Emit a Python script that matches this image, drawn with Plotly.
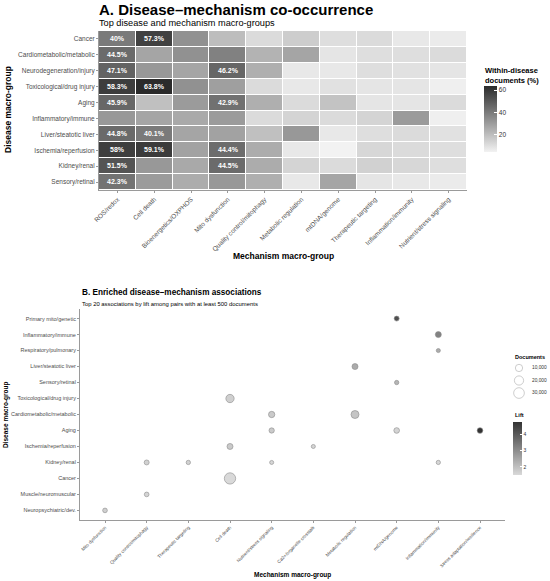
import numpy as np
import plotly.graph_objects as go

W, H = 550, 581
FONT = "Liberation Sans, Arial, sans-serif"

# ---- Panel A data: within-disease share of documents (%) ----
mechanisms = ["ROS/redox", "Cell death", "Bioenergetics/OXPHOS", "Mito dysfunction",
              "Quality control/mitophagy", "Metabolic regulation", "mtDNA/genome",
              "Therapeutic targeting", "Inflammation/immunity", "Nutrient/stress signaling"]
diseases = ["Cancer", "Cardiometabolic/metabolic", "Neurodegeneration/injury",
            "Toxicological/drug injury", "Aging", "Inflammatory/immune",
            "Liver/steatotic liver", "Ischemia/reperfusion", "Kidney/renal", "Sensory/retinal"]
pct = [
    [40.0, 57.3, 33, 20, 11, 15, 10, 11, 7, 6],
    [44.5, 27, 33, 38, 23, 27, 8, 10, 10, 11],
    [47.1, 31, 27, 46.2, 24, 7, 7, 10, 9, 8],
    [58.3, 63.8, 33, 29, 11, 7, 9, 8, 8, 5],
    [45.9, 19, 30, 42.9, 24, 11, 18, 8, 8, 11],
    [31, 27, 26, 30, 11, 13, 11, 13, 30, 5],
    [44.8, 40.1, 27, 28, 19, 31, 7, 10, 11, 9],
    [58.0, 59.1, 28, 44.4, 25, 7, 4, 12, 11, 10],
    [51.5, 31, 26, 44.5, 25, 13, 11, 14, 12, 10],
    [42.3, 30, 25, 31, 24, 7, 27, 8, 7, 6],
]

# ---- Panel B data: top 20 associations by lift ----
b_mechanisms = ["Mito dysfunction", "Quality control/mitophagy", "Therapeutic targeting",
                "Cell death", "Nutrient/stress signaling", "Ca2+/organelle crosstalk",
                "Metabolic regulation", "mtDNA/genome", "Inflammation/immunity",
                "Stress adaptation/resilience"]
b_diseases = ["Primary mito/genetic", "Inflammatory/immune", "Respiratory/pulmonary",
              "Liver/steatotic liver", "Sensory/retinal", "Toxicological/drug injury",
              "Cardiometabolic/metabolic", "Aging", "Ischemia/reperfusion", "Kidney/renal",
              "Cancer", "Muscle/neuromuscular", "Neuropsychiatric/dev."]
pair_disease = ["Primary mito/genetic", "Inflammatory/immune", "Respiratory/pulmonary",
                "Liver/steatotic liver", "Sensory/retinal", "Toxicological/drug injury",
                "Cardiometabolic/metabolic", "Cardiometabolic/metabolic",
                "Aging", "Aging", "Aging",
                "Ischemia/reperfusion", "Ischemia/reperfusion",
                "Kidney/renal", "Kidney/renal", "Kidney/renal", "Kidney/renal",
                "Cancer", "Muscle/neuromuscular", "Neuropsychiatric/dev."]
pair_mechanism = ["mtDNA/genome", "Inflammation/immunity", "Inflammation/immunity",
                  "Metabolic regulation", "mtDNA/genome", "Cell death",
                  "Nutrient/stress signaling", "Metabolic regulation",
                  "Nutrient/stress signaling", "mtDNA/genome", "Stress adaptation/resilience",
                  "Cell death", "Ca2+/organelle crosstalk",
                  "Quality control/mitophagy", "Therapeutic targeting",
                  "Nutrient/stress signaling", "Inflammation/immunity",
                  "Cell death", "Quality control/mitophagy", "Mito dysfunction"]
pair_docs = [2500, 5200, 1000, 5200, 1300, 14800, 6200, 13200, 3300, 4200, 4200,
             5200, 900, 2500, 1300, 900, 1200, 34800, 1900, 1900]
pair_lift = [4.2, 3.2, 2.4, 2.4, 2.2, 1.7, 1.8, 1.9, 1.8, 1.6, 4.75,
             1.8, 1.6, 1.65, 1.65, 1.55, 1.55, 1.5, 1.6, 1.7]
size_breaks = [10000, 20000, 30000]


def bubble_px(v):
    return 2.66 + 0.0464 * np.sqrt(np.asarray(v, dtype=float))


def px_x(p):
    return p / W


def px_y(p):
    return 1 - p / H


pct_arr = np.array(pct, dtype=float)
cell_text = [[(f"{v:g}%" if v >= 40 else "") for v in row] for row in pct]

fig = go.Figure()

fig.add_trace(go.Heatmap(
    z=pct_arr, x=mechanisms, y=diseases, text=cell_text,
    texttemplate="<b>%{text}</b>", textfont=dict(color="white", size=7, family=FONT),
    colorscale=[[0, "#f2f2f2"], [1, "#2b2b2b"]], xgap=1, ygap=1,
    colorbar=dict(x=px_x(484), xanchor="left", y=px_y(86), yanchor="top",
                  len=66 / H, thickness=13, outlinewidth=0, xpad=0, ypad=0,
                  tickvals=[20, 40, 60], ticks="inside", ticklen=3, tickcolor="white",
                  tickfont=dict(size=6.5, color="#333333", family=FONT)),
    hoverinfo="skip",
))

fig.add_trace(go.Scatter(
    x=pair_mechanism, y=pair_disease, mode="markers", xaxis="x2", yaxis="y2",
    marker=dict(size=bubble_px(pair_docs), color=pair_lift,
                colorscale=[[0, "#d9d9d9"], [1, "#333333"]],
                line=dict(color="#8c8c8c", width=0.6), opacity=1,
                colorbar=dict(x=px_x(513), xanchor="left", y=px_y(422), yanchor="top",
                              len=53 / H, thickness=9, outlinewidth=0, xpad=0, ypad=0,
                              tickvals=[2, 3, 4], ticks="inside", ticklen=2, tickcolor="white",
                              tickfont=dict(size=5, color="#333333", family=FONT))),
    showlegend=False, hoverinfo="skip",
))

# size legend (Documents)
fig.add_trace(go.Scatter(
    x=[0.225] * len(size_breaks), y=list(range(len(size_breaks))), mode="markers",
    xaxis="x3", yaxis="y3",
    marker=dict(size=bubble_px(size_breaks), color="white",
                line=dict(color="#8c8c8c", width=0.6)),
    showlegend=False, hoverinfo="skip",
))
fig.add_trace(go.Scatter(
    x=[0.55] * len(size_breaks), y=list(range(len(size_breaks))), mode="text",
    xaxis="x3", yaxis="y3", text=[f"{v:,}" for v in size_breaks],
    textposition="middle right", textfont=dict(size=4.8, color="#333333", family=FONT),
    showlegend=False, hoverinfo="skip", cliponaxis=False,
))

axis_common = dict(showgrid=False, zeroline=False, showline=True, linecolor="#9a9a9a",
                   linewidth=1, ticks="outside", ticklen=2, tickcolor="#9a9a9a",
                   type="category", automargin=False)

fig.update_layout(
    width=W, height=H, margin=dict(l=0, r=0, t=0, b=0, pad=0, autoexpand=False),
    paper_bgcolor="white", plot_bgcolor="white",
    font=dict(family=FONT, color="#333333"),
    xaxis=dict(axis_common, domain=[px_x(99), px_x(467)], anchor="y",
               categoryorder="array", categoryarray=mechanisms, tickangle=-45,
               tickfont=dict(size=6.5, color="#4d4d4d")),
    yaxis=dict(axis_common, domain=[px_y(190), px_y(31)], anchor="x",
               categoryorder="array", categoryarray=diseases, autorange="reversed",
               tickfont=dict(size=6.5, color="#4d4d4d")),
    xaxis2=dict(axis_common, domain=[px_x(80), px_x(505)], anchor="y2",
                categoryorder="array", categoryarray=b_mechanisms, range=[-0.6, 9.6],
                tickangle=-45, tickfont=dict(size=4.6, color="#4d4d4d")),
    yaxis2=dict(axis_common, domain=[px_y(520), px_y(309)], anchor="x2",
                categoryorder="array", categoryarray=b_diseases, range=[12.6, -0.6],
                tickfont=dict(size=5.5, color="#4d4d4d")),
    xaxis3=dict(domain=[px_x(510), 1], range=[0, 1], visible=False, anchor="y3",
                automargin=False),
    yaxis3=dict(domain=[px_y(399.3), px_y(361.7)], range=[2.5, -0.5], visible=False,
                anchor="x3", automargin=False),
)

notes = [
    ("<b>A. Disease–mechanism co-occurrence</b>", 97, 10, 15, 0, "left"),
    ("Top disease and mechanism macro-groups", 97, 23, 9.2, 0, "left"),
    ("<b>Mechanism macro-group</b>", 283, 256, 8.5, 0, "center"),
    ("<b>Disease macro-group</b>", 8, 110, 8.5, -90, "center"),
    ("<b>Within-disease<br>documents (%)</b>", 483, 75, 7.5, 0, "left"),
    ("<b>B. Enriched disease–mechanism associations</b>", 80, 292, 8.2, 0, "left"),
    ("Top 20 associations by lift among pairs with at least 500 documents", 80, 304, 5.9, 0, "left"),
    ("<b>Mechanism macro-group</b>", 292, 575, 6.5, 0, "center"),
    ("<b>Disease macro-group</b>", 6, 415, 6.5, -90, "center"),
    ("<b>Documents</b>", 513, 357, 5.5, 0, "left"),
    ("<b>Lift</b>", 513, 415, 5.5, 0, "left"),
]
for txt, x, y, size, ang, anchor in notes:
    fig.add_annotation(text=txt, x=px_x(x), y=px_y(y), xref="paper", yref="paper",
                       xanchor=anchor, yanchor="middle", showarrow=False, textangle=ang,
                       align="left", font=dict(size=size, color="black", family=FONT))

# drop the browser's default page margin so the figure sits at the window's corner
fig.write_html("out.html", config={"displayModeBar": False},
               post_script="document.body.style.margin='0';")
